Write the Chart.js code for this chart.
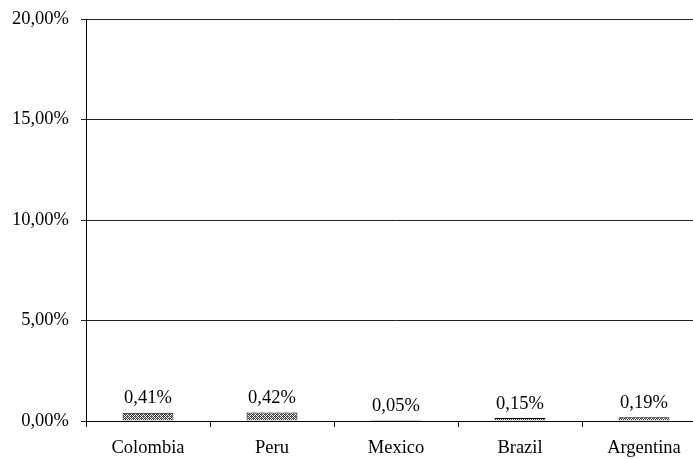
<!DOCTYPE html>
<html>
<head>
<meta charset="utf-8">
<script src="https://cdn.jsdelivr.net/npm/chart.js"></script>
<style>
    body { margin: 0; overflow: hidden; background: #fff; }
    #contenedor { width: 720px; height: 463px; margin-top: -4px; }
</style>
</head>
<body>
<div id="contenedor"><canvas id="myChart"></canvas></div>
<script>
const paises = ['Colombia', 'Peru', 'Mexico', 'Brazil', 'Argentina'];
const valores = [0.41, 0.42, 0.05, 0.15, 0.19];
const etiquetas = ['0,41%', '0,42%', '0,05%', '0,15%', '0,19%'];

const fuente = { family: '"Liberation Serif", "Times New Roman", serif', size: 18.5 };

function crearTrama(){
    const c = document.createElement('canvas');
    c.width = 4;
    c.height = 4;
    const g = c.getContext('2d');
    g.fillStyle = '#ffffff';
    g.fillRect(0, 0, 4, 4);
    g.fillStyle = '#3a3a3a';
    for (let y = 0; y < 4; y++){
        for (let x = 0; x < 4; x++){
            if ((x + y) % 2 === 0) g.fillRect(x, y, 1, 1);
        }
    }
    g.fillStyle = '#777';
    g.fillRect(1, 2, 1, 1);
    g.fillRect(3, 0, 1, 1);
    return g.createPattern(c, 'repeat');
}

function formatoPorcentaje(v){
    return v.toFixed(2).replace('.', ',') + '%';
}

const etiquetasBarras = {
    id: 'etiquetasBarras',
    afterDatasetsDraw(chart){
        const ctx = chart.ctx;
        const meta = chart.getDatasetMeta(0);
        ctx.save();
        ctx.font = fuente.size + 'px ' + fuente.family;
        ctx.fillStyle = '#000';
        ctx.textAlign = 'center';
        ctx.textBaseline = 'bottom';
        meta.data.forEach((barra, i) => {
            ctx.fillText(etiquetas[i], barra.x, barra.y - 5);
        });
        ctx.restore();
    }
};

let ctx = document.getElementById('myChart').getContext('2d');

let myChart = new Chart(ctx, {
    type: 'bar',
    data: {
        labels: paises,
        datasets: [{
            data: valores,
            backgroundColor: crearTrama(),
            borderColor: '#000',
            borderWidth: 1,
            categoryPercentage: 0.41,
            barPercentage: 1
        }]
    },
    options: {
        responsive: true,
        maintainAspectRatio: false,
        animation: false,
        layout: { padding: { top: 15, right: 14, left: 0, bottom: 0 } },
        plugins: {
            legend: { display: false },
            tooltip: { enabled: false }
        },
        scales: {
            x: {
                offset: true,
                grid: {
                    offset: true,
                    drawOnChartArea: false,
                    color: '#000',
                    tickLength: 6
                },
                border: { color: '#000', width: 1 },
                ticks: { color: '#000', font: fuente, padding: 10, maxRotation: 0 },
                afterFit(scale){ scale.height = 38; }
            },
            y: {
                min: 0,
                max: 20,
                ticks: {
                    stepSize: 5,
                    color: '#000',
                    font: fuente,
                    padding: 12,
                    callback: (v) => formatoPorcentaje(v)
                },
                grid: { color: '#222', tickLength: 5 },
                border: { color: '#000', width: 1 },
                afterFit(scale){ scale.width = 86; }
            }
        }
    },
    plugins: [etiquetasBarras]
});
</script>
</body>
</html>
